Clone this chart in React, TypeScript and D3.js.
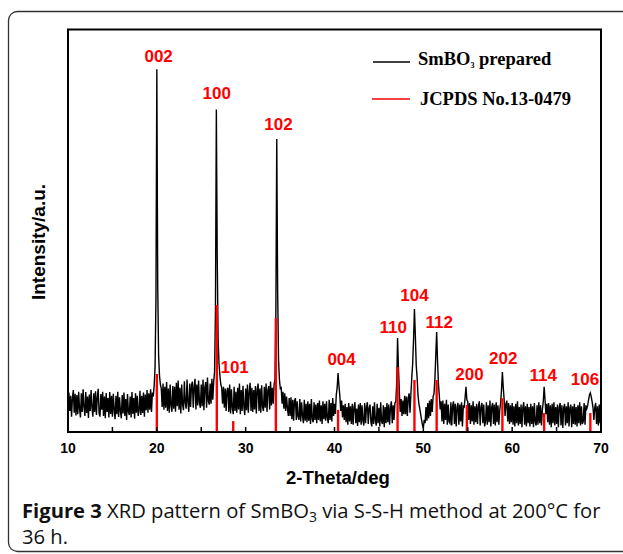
import React from 'react';
import * as d3 from 'd3';

const W = 623;
const H = 554;

// measured scan, 10.0 .. 70.0 deg 2theta, 0.1 deg step (arbitrary units, 1000 = top of frame)
const scanStart = 10;
const scanStep = 0.1;
const intensity = [
  45, 98, 52, 90, 38, 85, 104, 48, 95, 41,
  92, 44, 100, 58, 36, 96, 50, 106, 62, 40,
  99, 47, 88, 35, 93, 52, 104, 60, 38, 96,
  50, 101, 42, 86, 107, 46, 38, 94, 55, 100,
  40, 88, 34, 97, 50, 84, 36, 99, 45, 90,
  38, 95, 55, 32, 90, 44, 100, 37, 86, 52,
  34, 92, 46, 98, 40, 82, 30, 94, 50, 42,
  88, 36, 99, 45, 84, 33, 96, 48, 90, 40,
  52, 102, 42, 90, 47, 98, 38, 93, 54, 104,
  48, 96, 55, 106, 50, 98, 88, 115, 160, 330,
  900, 360, 190, 140, 118, 108, 62, 120, 55, 112,
  60, 124, 52, 108, 48, 118, 66, 50, 114, 58,
  112, 50, 122, 64, 128, 55, 110, 46, 118, 68,
  54, 126, 72, 58, 130, 74, 50, 120, 62, 115,
  125, 60, 112, 132, 56, 118, 66, 128, 72, 60,
  118, 64, 130, 54, 110, 124, 60, 135, 76, 68,
  120, 70, 132, 80, 125, 150, 300, 800, 430, 230,
  170, 140, 118, 110, 70, 112, 60, 108, 52, 104,
  110, 50, 118, 46, 106, 60, 44, 112, 52, 100,
  48, 110, 56, 120, 44, 104, 52, 115, 62, 42,
  108, 54, 118, 48, 100, 122, 52, 110, 50, 104,
  56, 114, 46, 106, 120, 52, 108, 48, 116, 62,
  52, 112, 60, 120, 50, 104, 114, 56, 125, 66,
  110, 70, 118, 130, 300, 727, 350, 180, 130, 108,
  110, 70, 100, 58, 96, 52, 88, 60, 40, 84,
  40, 86, 32, 80, 28, 78, 84, 30, 76, 38,
  30, 82, 26, 74, 40, 22, 80, 28, 70, 24,
  76, 28, 70, 20, 82, 32, 24, 74, 30, 68,
  22, 72, 30, 78, 26, 66, 20, 76, 32, 70,
  28, 76, 34, 22, 80, 30, 72, 26, 84, 40,
  70, 45, 92, 110, 146, 115, 90, 52, 78, 36,
  66, 30, 70, 24, 62, 18, 72, 26, 64, 20,
  70, 18, 62, 74, 22, 58, 15, 68, 24, 72,
  18, 66, 28, 16, 72, 22, 62, 74, 20, 60,
  68, 24, 14, 64, 20, 74, 28, 16, 70, 22,
  60, 14, 74, 26, 20, 66, 12, 62, 22, 72,
  24, 68, 18, 60, 76, 22, 66, 30, 72, 75,
  120, 233, 160, 100, 50, 82, 40, 78, 44, 90,
  44, 88, 40, 84, 96, 48, 95, 135, 170, 230,
  305, 240, 165, 135, 92, 70, 58, 44, 30, 18,
  10, 30, 22, 62, 28, 72, 34, 78, 40, 82,
  50, 88, 95, 130, 190, 248, 175, 120, 90, 56,
  76, 26, 78, 20, 70, 30, 80, 18, 68, 26,
  22, 74, 16, 66, 76, 20, 70, 14, 62, 72,
  18, 68, 26, 74, 14, 64, 62, 85, 112, 80,
  76, 30, 72, 20, 66, 26, 76, 18, 64, 24,
  70, 20, 64, 76, 16, 62, 72, 22, 68, 14,
  26, 74, 18, 66, 24, 78, 14, 62, 72, 20,
  68, 16, 74, 24, 66, 18, 55, 72, 105, 149,
  110, 80, 40, 70, 78, 26, 72, 20, 66, 24,
  72, 18, 64, 14, 70, 22, 76, 16, 62, 20,
  68, 12, 60, 74, 18, 64, 14, 70, 22, 62,
  14, 70, 20, 64, 12, 72, 24, 16, 66, 18,
  74, 22, 66, 16, 55, 75, 112, 80, 44, 70,
  24, 72, 18, 66, 12, 70, 22, 74, 16, 62,
  20, 68, 12, 62, 72, 16, 66, 10, 60, 70,
  16, 64, 22, 74, 14, 60, 68, 12, 64, 20,
  70, 18, 62, 14, 66, 22, 74, 16, 64, 20,
  26, 72, 18, 66, 58, 66, 80, 92, 97, 88,
  75, 60, 30, 62, 72, 20, 64, 16, 68, 22,
  45,
];

// JCPDS No.13-0479 reference lines
const refTheta = [20.0, 26.75, 28.6, 33.4, 40.4, 47.1, 49.0, 51.5, 54.9, 58.9, 63.6, 68.8];
const refHeight = [144, 315, 27, 283, 55, 161, 129, 129, 67, 84, 47, 47];

// hkl labels
const hkl = ['002', '100', '101', '102', '004', '110', '104', '112', '200', '202', '114', '106'];
const hklTheta = [20.2, 26.74, 28.76, 33.7, 40.8, 46.6, 49.0, 51.8, 55.2, 59.0, 63.5, 68.2];
const hklHeight = [933, 841, 161, 764, 181, 261, 340, 273, 144, 184, 141, 132];

const xTicks = [10, 20, 30, 40, 50, 60, 70];
const xMinor = [15, 20, 25, 30, 35, 40, 45, 50, 55, 60, 65];

const sans = '"Liberation Sans", Arial, sans-serif';
const serif = '"Liberation Serif", "Times New Roman", serif';
const cap = '"Open Sans", sans-serif';
const red = '#ff0000';

export default function App() {
  const x = d3.scaleLinear().domain([10, 70]).range([68, 601]);
  const y = d3.scaleLinear().domain([0, 1000]).range([432, 29]);

  const pts = intensity.map((v, i) => [scanStart + i * scanStep, v] as [number, number]);
  const line = d3.line<[number, number]>()
    .x(d => x(d[0]))
    .y(d => y(d[1]));

  return (
    <div style={{ position: 'absolute', left: 0, top: 0, width: W, height: H, background: '#fff' }}>
      <svg width={W} height={H} style={{ display: 'block' }}>
        {/* card */}
        <rect x={8.5} y={11.5} width={700} height={540} rx={9} fill="none" stroke="#333" strokeWidth={1.3} />

        {/* pattern */}
        <path d={line(pts) || ''} fill="none" stroke="#000" strokeWidth={1.4} />

        {/* reference lines */}
        {refTheta.map((t, i) => (
          <line key={'r' + i} x1={x(t)} x2={x(t)} y1={y(0)} y2={y(refHeight[i])} stroke={red} strokeWidth={2.4} />
        ))}

        {/* frame */}
        <rect x={68} y={29.5} width={533} height={402.5} fill="none" stroke="#000" strokeWidth={2} />
        {xMinor.map(t => (
          <line key={'m' + t} x1={x(t)} x2={x(t)} y1={432} y2={427} stroke="#000" strokeWidth={1.5} />
        ))}
        {xTicks.map(t => (
          <text key={'t' + t} x={x(t)} y={453} textAnchor="middle" fontFamily={sans} fontWeight="bold" fontSize={14}>
            {t}
          </text>
        ))}
        <text x={338} y={484} textAnchor="middle" fontFamily={sans} fontWeight="bold" fontSize={18.5}>
          2-Theta/deg
        </text>
        <text transform="translate(45,242) rotate(-90)" textAnchor="middle" fontFamily={sans} fontWeight="bold" fontSize={19}>
          Intensity/a.u.
        </text>

        {/* hkl */}
        {hkl.map((h, i) => (
          <text key={'h' + h} x={x(hklTheta[i])} y={y(hklHeight[i])} dy="0.36em" textAnchor="middle"
            fontFamily={sans} fontWeight="bold" fontSize={17} fill={red}>
            {h}
          </text>
        ))}

        {/* legend */}
        <line x1={373} x2={410} y1={62} y2={62} stroke="#000" strokeWidth={1.5} />
        <text x={418} y={65} fontFamily={serif} fontWeight="bold" fontSize={18.5}>
          SmBO<tspan fontSize={8} dy={3}>3</tspan><tspan dy={-3}> prepared</tspan>
        </text>
        <line x1={372} x2={410} y1={99} y2={99} stroke={red} strokeWidth={1.5} />
        <text x={420} y={105} fontFamily={serif} fontWeight="bold" fontSize={18.5}>
          JCPDS No.13-0479
        </text>

        {/* caption */}
        <text x={22} y={518} fontFamily={cap} fontSize={20.2} fill="#111">
          <tspan fontWeight="bold">Figure 3</tspan> XRD pattern of SmBO<tspan fontSize={14} dy={4}>3</tspan>
          <tspan dy={-4}> via S-S-H method at 200°C for</tspan>
        </text>
        <text x={22} y={544} fontFamily={cap} fontSize={20.2} fill="#111">
          36 h.
        </text>
      </svg>
    </div>
  );
}
